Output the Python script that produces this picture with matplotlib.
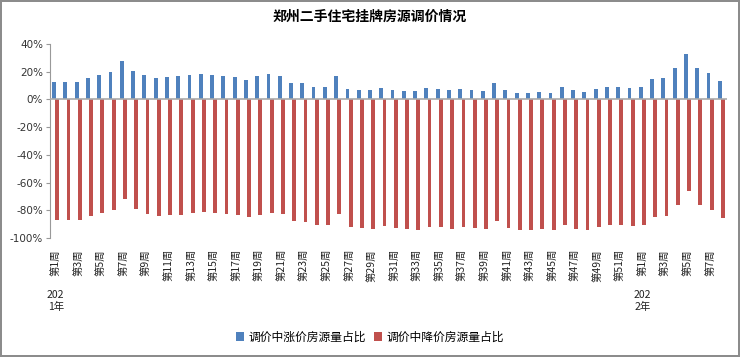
import matplotlib
matplotlib.use("Agg")
import matplotlib.pyplot as plt
import matplotlib.transforms as mtransforms
import numpy as np

plt.rcParams['font.family'] = ['Noto Sans CJK SC', 'DejaVu Sans']

years = ["2021年"] * 52 + ["2022年"] * 8
weeks = [f"第{i}周" for i in range(1, 53)] + [f"第{i}周" for i in range(1, 9)]

rise_share = [12.8, 12.5, 12.5, 15.4, 17.6, 19.5, 27.7, 20.2, 17.6, 15.4,
              16.1, 16.9, 17.6, 18.3, 17.6, 16.9, 16.1, 14.0, 16.9, 18.3,
              16.9, 12.0, 11.6, 8.7, 8.7, 16.9, 7.2, 6.5, 6.5, 8.0,
              6.5, 5.8, 5.8, 8.0, 7.2, 6.5, 7.2, 6.5, 5.8, 11.8,
              6.5, 4.3, 4.3, 5.1, 4.3, 8.7, 6.5, 5.1, 7.2, 8.7,
              8.7, 8.0, 8.7, 14.5, 15.2, 22.7, 32.8, 22.7, 19.3, 13.3]
fall_share = [-86.7, -86.7, -86.7, -83.8, -81.9, -80.0, -71.9, -79.3, -82.4, -83.8,
              -83.3, -83.3, -81.9, -81.2, -81.9, -82.4, -83.1, -85.2, -83.1, -81.9,
              -82.4, -87.4, -88.1, -90.5, -90.5, -82.4, -91.9, -92.6, -93.3, -91.4,
              -92.6, -93.3, -94.0, -91.9, -91.9, -93.3, -91.9, -92.6, -93.3, -87.9,
              -92.6, -94.5, -94.5, -93.8, -94.5, -90.5, -93.3, -94.0, -91.9, -90.5,
              -90.5, -91.4, -90.5, -84.5, -83.8, -76.4, -66.4, -76.4, -80.0, -85.7]

series_names = ["调价中涨价房源量占比", "调价中降价房源量占比"]
yticks = [40, 20, 0, -20, -40, -60, -80, -100]

blue = "#4F81BD"
red = "#C0504D"

fig = plt.figure(figsize=(7.4, 3.57), dpi=100)
fig.patch.set_edgecolor("#8c8c8c")
fig.patch.set_linewidth(1.5)

ax = fig.add_axes([50 / 740, 1 - 238 / 357, 677 / 740, (238 - 44) / 357])

x = np.arange(len(weeks))
w = 0.34
ax.bar(x - 0.14, rise_share, width=w, color=blue, label=series_names[0], zorder=2)
ax.bar(x + 0.14, fall_share, width=w, color=red, label=series_names[1], zorder=2)

ax.set_xlim(-0.5, len(weeks) - 0.5)
ax.set_ylim(-100, 40)
ax.set_yticks(yticks)
ax.set_yticklabels([f"{v}%" for v in yticks], fontsize=7.5, color="#333333",
                   family=['DejaVu Sans'])
ax.tick_params(axis='y', length=3, color="#999999", width=0.8, pad=2)

ax.set_xticks(x[::2])
ax.set_xticklabels(weeks[::2], rotation=90, fontsize=7.5, color="#222222")
ax.tick_params(axis='x', length=0, pad=8)

for s in ["top", "right", "bottom"]:
    ax.spines[s].set_visible(False)
ax.spines["left"].set_color("#999999")
ax.spines["left"].set_linewidth(0.8)
ax.axhline(0, color="#aaaaaa", linewidth=1.2, zorder=3)

trans = mtransforms.blended_transform_factory(ax.transData, fig.transFigure)
year_starts = [years.index(y) for y in dict.fromkeys(years)]
for idx in year_starts:
    label = years[idx]
    ax.text(idx, 1 - 301 / 357, label[:3] + "\n" + label[3:], transform=trans,
            ha="center", va="center", fontsize=7.5, color="#222222", linespacing=1.3)

fig.suptitle("郑州二手住宅挂牌房源调价情况", y=1 - 17 / 357, va="center",
             fontsize=10, fontweight="bold")

fig.legend(loc="center", bbox_to_anchor=(370 / 740, 1 - 337 / 357), ncol=2,
           frameon=False, fontsize=8.5, handlelength=0.7, handleheight=0.7,
           handletextpad=0.4, columnspacing=0.6)

fig.savefig("out.png", dpi=100)
